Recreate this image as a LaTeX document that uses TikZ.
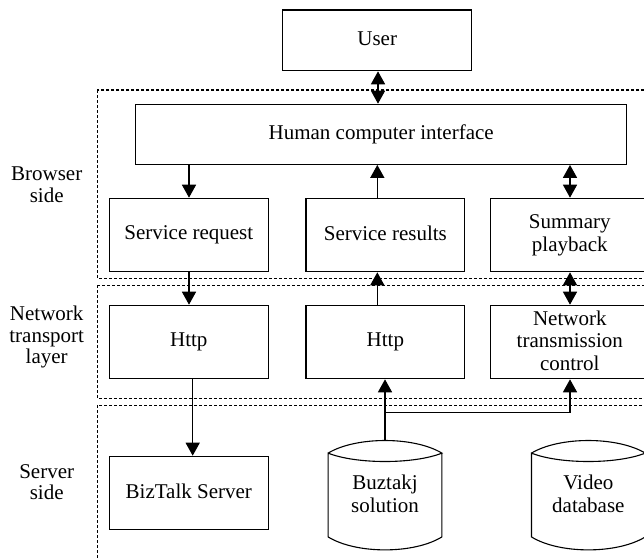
\documentclass[tikz,border=0pt]{standalone}
\usepackage{fontspec}
\setmainfont{Liberation Serif}
\usetikzlibrary{arrows.meta,calc}
\newcommand\mystrut{\rule[-3pt]{0pt}{16pt}}
\begin{document}
\begin{tikzpicture}[x=1pt,y=-1pt,
  box/.style={draw,line width=1.2pt,align=center,inner sep=0pt,
    font=\fontsize{21}{22.7}\selectfont,
    execute at begin node={\mystrut}, execute at end node={\mystrut}},
  cyl/.style={inner sep=0pt,align=center,minimum width=113.4pt,minimum height=83.4pt,
    font=\fontsize{21}{22.7}\selectfont,
    execute at begin node={\mystrut}, execute at end node={\mystrut}},
  zone/.style={draw,line width=1.1pt,dash pattern=on 3pt off 2pt},
  lbl/.style={align=center,font=\fontsize{21}{21.7}\selectfont},
  conn/.style={line width=1.5pt,-{Triangle[width=14pt,length=13pt]}},
  bconn/.style={line width=1.5pt,{Triangle[width=14pt,length=13pt]}-{Triangle[width=14pt,length=13pt]}},
  cylline/.style={line width=1.1pt}
]
\useasboundingbox (0,0) rectangle (644,558);
\clip (0,0) rectangle (644,558);
\fill[white] (0,0) rectangle (644,558);

% zones
\draw[zone] (97.3,90) rectangle (670,278.3);
\draw[zone] (97.3,285.3) rectangle (670,398.7);
\draw[zone] (97.3,405.3) rectangle (670,580);

% side labels
\node[lbl] (lb) at (46.7,185) {Browser\\side};
\node[lbl] (ln) at (46.7,337) {Network\\transport\\layer};
\node[lbl] (ls) at (46.7,482) {Server\\side};

% boxes
\node[box,minimum width=189pt,minimum height=60.7pt] (user) at (377.2,40.35) {User};
\node[box,minimum width=491pt,minimum height=60pt] (hci) at (381.2,134.3) {Human computer interface};
\node[box,minimum width=159pt,minimum height=73.4pt] (sreq) at (188.8,235) {Service request};
\node[box,minimum width=158.7pt,minimum height=73.4pt] (sres) at (385.35,235) {Service results};
\node[box,minimum width=159pt,minimum height=73.4pt] (sum) at (569.8,235) {Summary\\playback};
\node[box,minimum width=159pt,minimum height=73.4pt] (http1) at (188.8,342) {Http};
\node[box,minimum width=158.7pt,minimum height=73.4pt] (http2) at (385.35,342) {Http};
\node[box,minimum width=159pt,minimum height=73.4pt] (ntc) at (569.8,342) {Network\\transmission\\control};
\node[box,minimum width=159pt,minimum height=73.4pt] (biz) at (188.8,493) {BizTalk Server};

% cylinders
\node[cyl] (buz) at (385,495) {Buztakj\\solution};
\node[cyl] (vid) at (588.35,495) {Video\\database};
\foreach \c in {buz,vid}{
  \draw[cylline]
    (\c.north west) .. controls ($(\c.north west)+(28,-16.8)$) and ($(\c.north east)+(-28,-16.8)$) .. (\c.north east)
    .. controls ($(\c.north east)+(-28,11.2)$) and ($(\c.north west)+(28,11.2)$) .. (\c.north west)
    -- (\c.south west)
    .. controls ($(\c.south west)+(28,17.3)$) and ($(\c.south east)+(-28,17.3)$) .. (\c.south east)
    -- (\c.north east);
}
\coordinate (buztop) at ($(buz.north)+(0,-12.6)$);

% connectors
\draw[bconn] (user.south -| 378,0) -- (hci.north -| 378,0);
\draw[conn] (hci.south -| 189,0) -- (sreq.north -| 189,0);
\draw[conn] (sres.north -| 377.3,0) -- (hci.south -| 377.3,0);
\draw[bconn] (hci.south -| 570,0) -- (sum.north -| 570,0);
\draw[conn] (sreq.south -| 189,0) -- (http1.north -| 189,0);
\draw[conn] (http2.north -| 377.3,0) -- (sres.south -| 377.3,0);
\draw[bconn] (sum.south -| 570,0) -- (ntc.north -| 570,0);
\draw[conn] (http1.south -| 192.7,0) -- (biz.north -| 192.7,0);
\draw[conn] (buztop) -- (http2.south -| buztop);
\coordinate (branch) at (385,412.3);
\draw[conn] (branch) -| (ntc.south -| 570,0);
\end{tikzpicture}
\end{document}
